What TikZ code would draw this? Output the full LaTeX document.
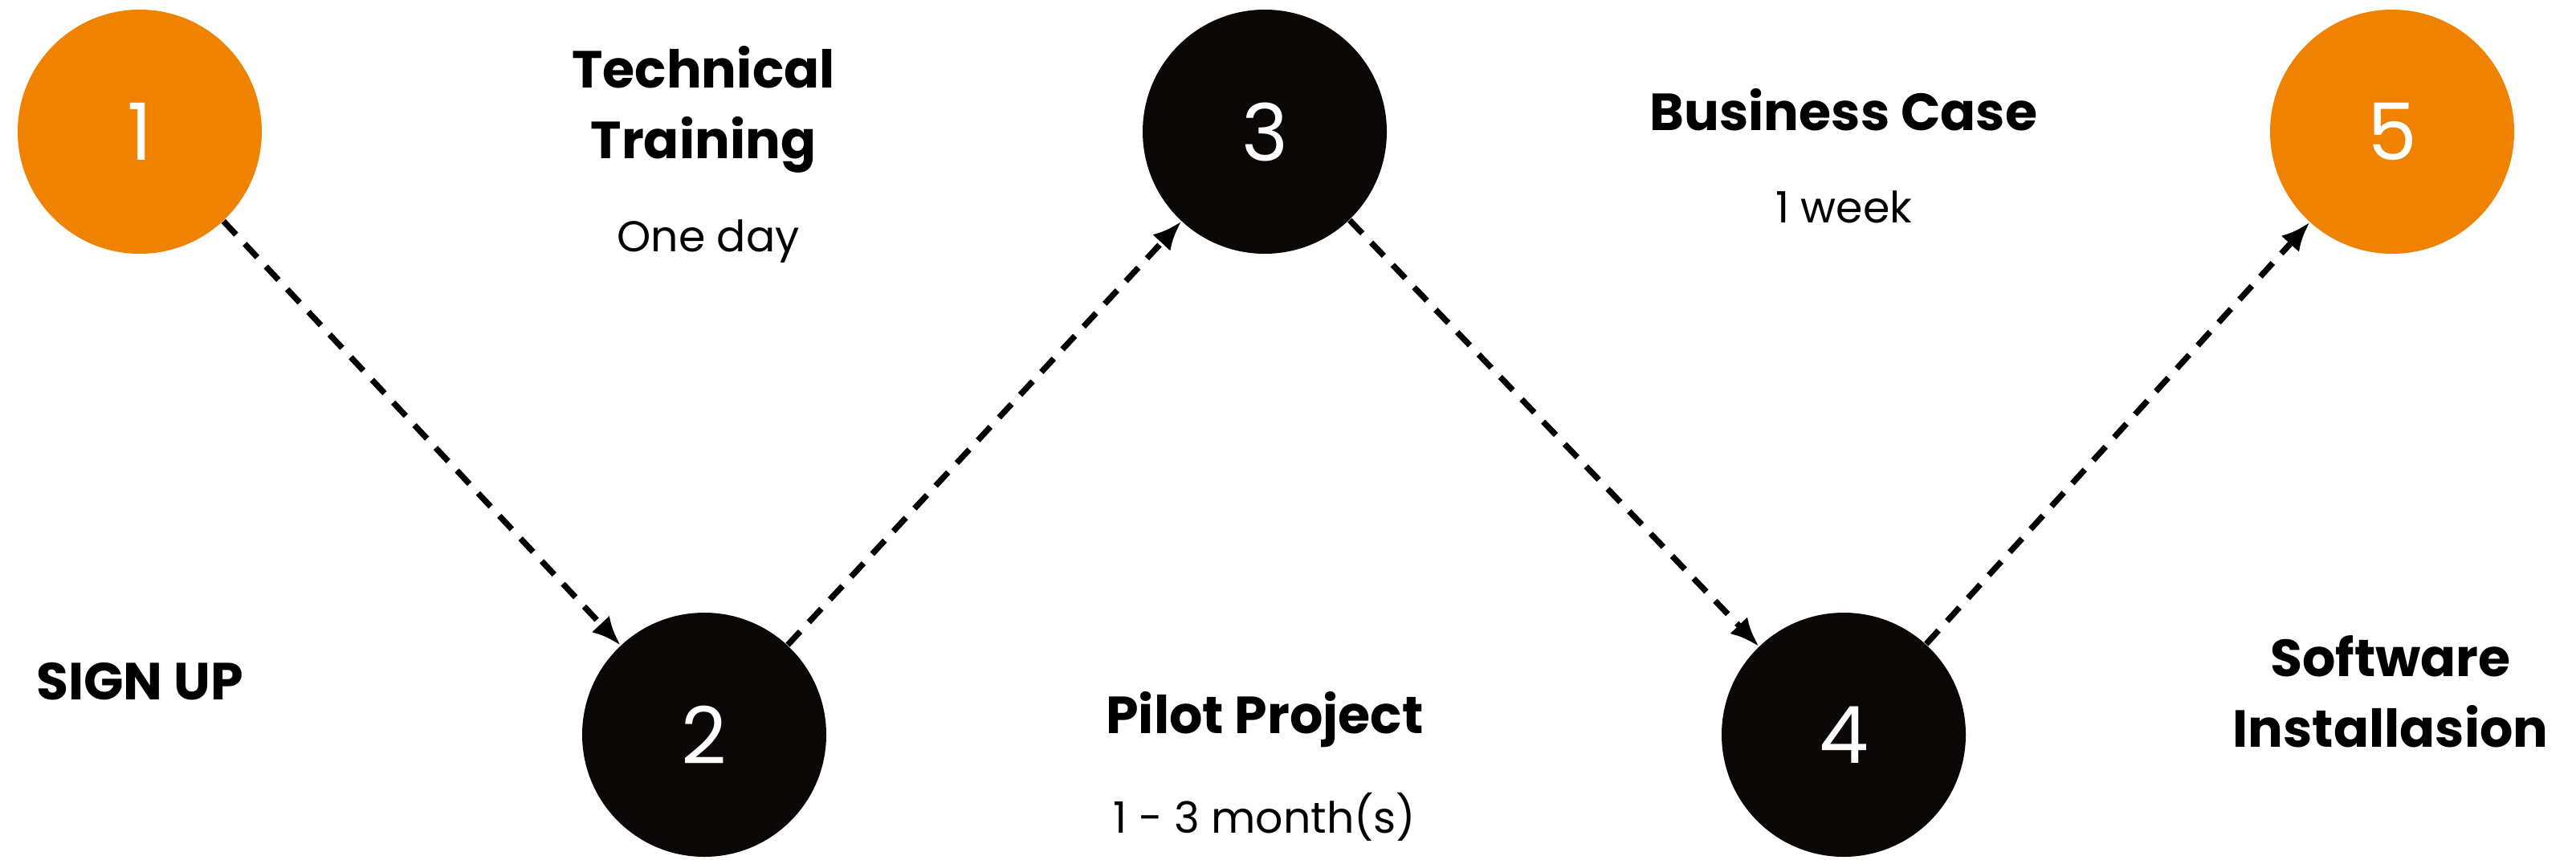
\documentclass[tikz,border=0pt]{standalone}
\usepackage{fontspec}
\setmainfont{Poppins}
\usepackage{xcolor}
\definecolor{vizOrange}{HTML}{EF8200}
\definecolor{vizDark}{HTML}{0A0706}
\usetikzlibrary{arrows.meta}

\tikzset{
  stepDot/.style={circle, minimum size=3.04cm, inner sep=0pt, text=white,
    font=\fontsize{28}{30}\selectfont},
  stepTitle/.style={align=center, font=\bfseries\fontsize{18.5}{25}\selectfont},
  stepNote/.style={font=\fontsize{15.3}{18}\selectfont},
  stepLink/.style={line width=2.1pt, dash pattern=on 6.5pt off 4.5pt,
    -{Latex[length=0.36cm,width=0.3cm]}}
}

\begin{document}
\begin{tikzpicture}
  \filldraw[fill=white, draw=none] (0cm,0cm) rectangle (32.08cm,10.70cm);
  % the five steps
  \node[stepDot, fill=vizOrange] (s1) at (1.74cm,9.06cm) {1};
  \node[stepDot, fill=vizDark] (s2) at (8.77cm,1.55cm) {2};
  \node[stepDot, fill=vizDark] (s3) at (15.75cm,9.06cm) {3};
  \node[stepDot, fill=vizDark] (s4) at (22.96cm,1.55cm) {4};
  \node[stepDot, fill=vizOrange] (s5) at (29.79cm,9.06cm) {5};
  % labels
  \node[stepTitle] (t1) at (1.74cm,2.21cm) {SIGN UP};
  \node[stepTitle] (t2) at (8.76cm,9.34cm) {Technical\\Training};
  \node[stepNote] (n2) at (8.82cm,7.69cm) {One day};
  \node[stepTitle] (t3) at (15.75cm,1.74cm) {Pilot Project};
  \node[stepNote] (n3) at (15.75cm,0.53cm) {1 - 3 month(s)};
  \node[stepTitle] (t4) at (22.96cm,9.33cm) {Business Case};
  \node[stepNote] (n4) at (22.96cm,8.12cm) {1 week};
  \node[stepTitle] (t5) at (29.77cm,2.09cm) {Software\\Installasion};
  % zigzag links
  \draw[stepLink] (s1) -- (s2);
  \draw[stepLink] (s2) -- (s3);
  \draw[stepLink] (s3) -- (s4);
  \draw[stepLink] (s4) -- (s5);
\end{tikzpicture}
\end{document}
